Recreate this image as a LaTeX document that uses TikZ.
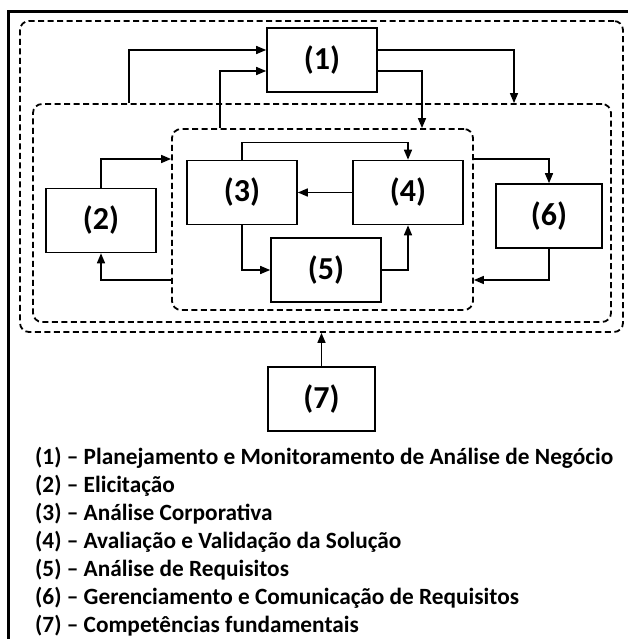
\documentclass[tikz,border=0pt]{standalone}
\usepackage{fontspec}
\setmainfont{Carlito}
\usepackage{tikz}
\usetikzlibrary{shapes.geometric, arrows, arrows.meta}

\begin{document}
\begin{tikzpicture}
    [
        x=1pt, y=-1pt,
        square/.style = {draw, shape=rectangle, minimum height=64pt, minimum width=110pt, line width=1.6pt, font=\fontsize{32}{34}\selectfont\bfseries},
        zone/.style = {draw, shape=rectangle, dashed, dash pattern=on 6pt off 3.5pt, rounded corners=9pt, line width=1.8pt},
        arr/.style = {-{Triangle[length=10pt, width=8pt]}, line width=1.5pt},
        legend/.style = {anchor=base west, inner sep=0pt, font=\fontsize{23.3}{28}\selectfont\bfseries},
    ]

    \useasboundingbox (0,0) rectangle (628,639);
    \draw[line width=3pt] (628,12) -- (8,12) -- (8,639);

    \node[zone, minimum width=603pt, minimum height=311pt] (outer) at (321.5,176.5) {};
    \node[zone, minimum width=578pt, minimum height=218pt] (middle) at (322,213) {};
    \node[zone, minimum width=301pt, minimum height=181pt] (inner) at (322.5,219.5) {};

    \node[square] (1c) at (322,60)      {(1)};
    \node[square] (2c) at (101,220.5)   {(2)};
    \node[square] (3c) at (242,192.5)   {(3)};
    \node[square] (4c) at (408,192.5)   {(4)};
    \node[square] (5c) at (326,270)     {(5)};
    \node[square, minimum width=106pt] (6c) at (549,216)   {(6)};
    \node[square, minimum width=107pt] (7c) at (321.5,399) {(7)};

    \draw[arr] (middle.north -| 129,0) |- ([yshift=10pt]1c.west);
    \draw[arr] (inner.north -| 220,0) |- ([yshift=-11pt]1c.west);
    \draw[arr] ([yshift=10pt]1c.east) -| (middle.north -| 514,0);
    \draw[arr] ([yshift=-11pt]1c.east) -| (inner.north -| 422,0);
    \draw[arr] (2c.north) |- (inner.west |- 0,159);
    \draw[arr] (inner.west |- 0,280) -| (2c.south);
    \draw[arr] (3c.north) -- ++(0,-17) -| (4c.north);
    \draw[arr] (4c.west) -- (3c.east);
    \draw[arr] (3c.south) |- (5c.west);
    \draw[arr] (5c.east) -| (4c.south);
    \draw[arr] (inner.east |- 0,159) -| (6c.north);
    \draw[arr] (6c.south) |- (inner.east |- 0,280);
    \draw[arr] (7c.north) -- (outer.south -| 7c.north);

    \node[legend] (l1) at (35,464) {(1) – Planejamento e Monitoramento de Análise de Negócio};
    \node[legend] (l2) at (35,492) {(2) – Elicitação};
    \node[legend] (l3) at (35,520) {(3) – Análise Corporativa};
    \node[legend] (l4) at (35,548) {(4) – Avaliação e Validação da Solução};
    \node[legend] (l5) at (35,576) {(5) – Análise de Requisitos};
    \node[legend] (l6) at (35,604) {(6) – Gerenciamento e Comunicação de Requisitos};
    \node[legend] (l7) at (35,632) {(7) – Competências fundamentais};
\end{tikzpicture}
\end{document}
